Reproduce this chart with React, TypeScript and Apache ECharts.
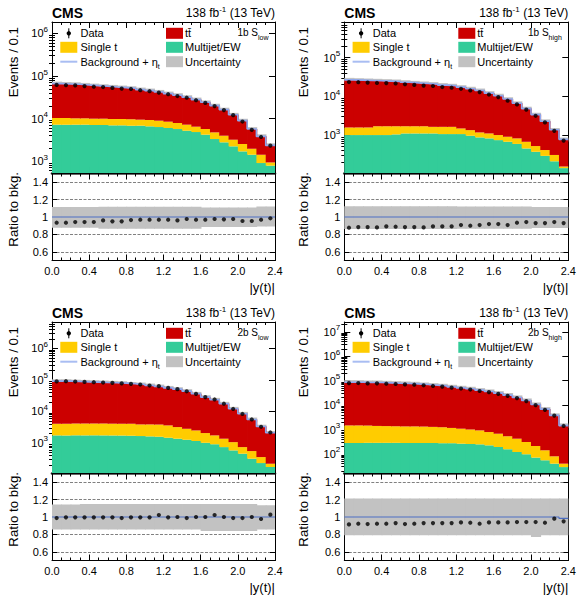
import React, { useEffect, useRef } from 'react';
import * as echarts from 'echarts';

// ---------- data ----------
const binEdges = [0.0, 0.1, 0.2, 0.3, 0.4, 0.5, 0.6, 0.7, 0.8, 0.9, 1.0, 1.1, 1.2, 1.3, 1.4, 1.5, 1.6, 1.7, 1.8, 1.9, 2.0, 2.1, 2.2, 2.3, 2.4];

// 1b S_low
const mjTL = [7180, 7180, 7180, 7180, 7050, 7050, 6920, 6920, 6800, 6800, 6560, 6320, 5990, 5670, 5180, 4820, 4180, 3300, 2760, 2220, 1690, 1410, 900, 780];
const stTL = [3120, 3120, 2940, 2940, 2880, 2880, 2830, 2830, 2770, 2610, 2680, 2590, 2450, 2180, 2000, 1620, 1500, 1430, 1190, 960, 830, 540, 510, 150];
const ttTL = [55900, 54700, 53800, 51500, 49500, 47400, 45500, 43600, 41800, 38400, 36100, 33200, 30100, 27400, 24400, 21400, 18400, 15400, 12300, 9100, 6400, 3730, 2400, 1410];
const dataRatioTL = [0.934, 0.934, 0.942, 0.942, 0.942, 0.961, 0.95, 0.95, 0.965, 0.969, 0.969, 0.969, 0.969, 0.961, 0.977, 0.969, 0.969, 0.977, 0.973, 0.977, 0.954, 0.954, 0.969, 0.985];
const uncUpTL = [1.116, 1.116, 1.116, 1.116, 1.116, 1.118, 1.118, 1.118, 1.118, 1.118, 1.118, 1.118, 1.118, 1.118, 1.118, 1.118, 1.108, 1.108, 1.108, 1.108, 1.108, 1.108, 1.12, 1.12];
const uncDnTL = [0.877, 0.877, 0.877, 0.877, 0.877, 0.866, 0.866, 0.866, 0.866, 0.866, 0.866, 0.866, 0.866, 0.866, 0.866, 0.866, 0.884, 0.884, 0.884, 0.884, 0.884, 0.884, 0.89, 0.89];
const etaRatioTL = [1, 1, 1, 1, 1, 1, 1, 1, 1, 1, 1, 1, 1, 1, 1, 1, 1, 1, 1, 1, 1, 1, 1, 1];

// 1b S_high
const mjTR = [1000, 1000, 1000, 1000, 1000, 1040, 1100, 1100, 1100, 1100, 1060, 1060, 1060, 960, 870, 820, 740, 670, 590, 450, 370, 290, 210, 140];
const stTR = [570, 570, 570, 690, 690, 650, 590, 590, 590, 530, 570, 570, 420, 380, 300, 280, 260, 230, 230, 220, 150, 120, 96, 14];
const ttTR = [25100, 24600, 24100, 23500, 23000, 22500, 21500, 20600, 19800, 19100, 17900, 17100, 15800, 14400, 13000, 11000, 9400, 7600, 5800, 4140, 2860, 1870, 1060, 620];
const dataRatioTR = [0.877, 0.884, 0.884, 0.88, 0.892, 0.888, 0.884, 0.884, 0.88, 0.892, 0.892, 0.892, 0.908, 0.9, 0.908, 0.919, 0.919, 0.908, 0.934, 0.942, 0.93, 0.93, 0.942, 0.93];
const uncUpTR = [1.125, 1.125, 1.125, 1.125, 1.125, 1.125, 1.125, 1.125, 1.125, 1.125, 1.125, 1.125, 1.122, 1.122, 1.122, 1.122, 1.122, 1.122, 1.122, 1.122, 1.115, 1.115, 1.115, 1.115];
const uncDnTR = [0.862, 0.862, 0.862, 0.862, 0.862, 0.862, 0.862, 0.862, 0.862, 0.862, 0.862, 0.862, 0.865, 0.865, 0.865, 0.865, 0.865, 0.865, 0.865, 0.865, 0.875, 0.875, 0.875, 0.875];
const etaRatioTR = [1, 1, 1, 1, 1, 1, 1, 1, 1, 1, 1, 1, 1, 1, 1, 1, 1, 1, 1, 1, 1, 1, 1, 1];

// 2b S_low
const mjBL = [1720, 1720, 1730, 1720, 1730, 1720, 1710, 1700, 1680, 1640, 1600, 1560, 1450, 1350, 1250, 1140, 1000, 900, 730, 573, 450, 312, 227, 170];
const stBL = [2310, 2330, 2370, 2380, 2370, 2380, 2340, 2330, 2320, 2200, 2240, 2240, 2120, 1810, 1540, 1330, 1040, 820, 620, 477, 280, 234, 125, 46];
const ttBL = [87000, 87000, 84800, 82600, 80600, 78500, 76700, 74700, 71000, 67600, 62600, 57900, 52300, 47600, 41100, 33600, 26300, 21600, 16100, 11000, 7630, 4980, 2960, 1860];
const dataRatioBL = [0.988, 0.996, 0.996, 0.996, 0.996, 0.996, 0.996, 0.988, 0.996, 0.996, 0.996, 1.023, 0.996, 1.0, 0.988, 1.0, 1.0, 1.023, 1.0, 0.988, 0.988, 1.0, 0.977, 1.027];
const uncUpBL = [1.143, 1.143, 1.143, 1.15, 1.15, 1.15, 1.15, 1.15, 1.15, 1.15, 1.15, 1.15, 1.15, 1.15, 1.15, 1.15, 1.15, 1.15, 1.15, 1.15, 1.15, 1.15, 1.135, 1.135];
const uncDnBL = [0.857, 0.857, 0.857, 0.857, 0.857, 0.857, 0.857, 0.857, 0.857, 0.857, 0.857, 0.857, 0.857, 0.857, 0.857, 0.857, 0.84, 0.84, 0.84, 0.84, 0.84, 0.84, 0.855, 0.855];
const etaRatioBL = [1, 1, 1, 1, 1, 1, 1, 1, 1, 1, 1, 1, 1, 1, 1, 1, 1, 1, 1, 1, 1, 1, 1, 1];

// 2b S_high
const mjBR = [280, 280, 285, 285, 285, 285, 280, 280, 280, 280, 275, 275, 263, 255, 247, 225, 192, 155, 120, 97, 71, 55, 40, 29];
const stBR = [1190, 1190, 1165, 1115, 1095, 1075, 1060, 1060, 1040, 1000, 965, 885, 817, 745, 673, 562, 481, 369, 301, 211, 140, 86, 40, 11];
const ttBR = [85000, 85000, 82400, 82400, 79800, 77300, 75000, 72600, 68100, 63900, 60100, 54600, 49700, 45300, 39900, 35200, 30100, 25000, 20100, 15100, 10400, 6700, 3700, 1430];
const dataRatioBR = [0.915, 0.923, 0.919, 0.923, 0.923, 0.93, 0.919, 0.923, 0.93, 0.93, 0.93, 0.93, 0.938, 0.934, 0.923, 0.938, 0.938, 0.938, 0.942, 0.942, 0.942, 0.934, 0.981, 0.95];
const uncUpBR = [1.212, 1.212, 1.212, 1.212, 1.212, 1.212, 1.212, 1.212, 1.212, 1.212, 1.212, 1.212, 1.212, 1.212, 1.212, 1.212, 1.212, 1.212, 1.212, 1.212, 1.212, 1.212, 1.212, 1.212];
const uncDnBR = [0.79, 0.79, 0.79, 0.79, 0.79, 0.79, 0.79, 0.79, 0.79, 0.79, 0.79, 0.79, 0.79, 0.79, 0.79, 0.79, 0.79, 0.79, 0.79, 0.79, 0.77, 0.79, 0.79, 0.79];
const etaRatioBR = [1, 1, 1, 1, 1, 1, 1, 1, 1, 1, 1, 1, 1, 1, 1, 1, 1, 1, 1, 1, 1, 1, 1, 0.985];

// axis ranges (log10 of min / max of the event axes)
const logRangeTL = [2.72, 6.27];
const logRangeTR = [2.02, 5.92];
const logRangeBL = [2.04, 6.84];
const logRangeBR = [1.22, 7.4];
const ratioRange = [0.5, 1.5];

const categoryNames = ['1b', '1b', '2b', '2b'];
const regionNames = ['low', 'high', 'low', 'high'];
const lumiText = '138 fb{sup|-1} (13 TeV)';

// ---------- style ----------
const FONT = '"Liberation Sans", Arial, Helvetica, sans-serif';
const C_TT = '#cc0000';
const C_ST = '#ffcc00';
const C_MJ = '#33cc99';
const C_UNC = '#c2c2c2';
const C_SIG = '#8ea7ee';
const C_SIG_R = '#4d6fc4';

const panels = [
  { mj: mjTL, st: stTL, tt: ttTL, dr: dataRatioTL, up: uncUpTL, dn: uncDnTL, eta: etaRatioTL, lr: logRangeTL },
  { mj: mjTR, st: stTR, tt: ttTR, dr: dataRatioTR, up: uncUpTR, dn: uncDnTR, eta: etaRatioTR, lr: logRangeTR },
  { mj: mjBL, st: stBL, tt: ttBL, dr: dataRatioBL, up: uncUpBL, dn: uncDnBL, eta: etaRatioBL, lr: logRangeBL },
  { mj: mjBR, st: stBR, tt: ttBR, dr: dataRatioBR, up: uncUpBR, dn: uncDnBR, eta: etaRatioBR, lr: logRangeBR },
];

const layout = [
  { L: 52, W: 223, T: 22, titleX: -38.5 },
  { L: 344.3, W: 224, T: 22, titleX: -40.8 },
  { L: 52, W: 223, T: 322, titleX: -38.5 },
  { L: 344.3, W: 224, T: 322, titleX: -40.8 },
];
const MAIN_H = 151;
const RATIO_OFF = 151.5;
const RATIO_H = 87;

const black = '#000';

function xAxisDef(gridIndex: number, position: string, labels: boolean, heavy: boolean) {
  return {
    type: 'value', gridIndex, position, min: 0, max: 2.4, interval: 0.4,
    axisLine: { show: true, onZero: false, lineStyle: { color: heavy ? '#333' : black, width: heavy ? 2.6 : 1 } },
    axisTick: { show: true, inside: true, length: 6, lineStyle: { color: black, width: 1 } },
    minorTick: { show: true, splitNumber: 4, length: 3, lineStyle: { color: black, width: 1 } },
    splitLine: { show: false },
    axisLabel: {
      show: labels, margin: 5, fontSize: 11, fontFamily: FONT, color: black,
      formatter: (v: number) => v.toFixed(1),
    },
  };
}

function logAxisDef(gridIndex: number, position: string, labels: boolean, lr: number[]) {
  return {
    type: 'log', logBase: 10, gridIndex, position,
    min: Math.pow(10, lr[0]), max: Math.pow(10, lr[1]),
    axisLine: { show: true, onZero: false, lineStyle: { color: black, width: 1 } },
    axisTick: { show: true, inside: true, length: 6, lineStyle: { color: black, width: 1 } },
    splitLine: { show: false },
    axisLabel: {
      show: labels, margin: 4, showMinLabel: false, showMaxLabel: false,
      formatter: (v: number) => '{b|10}{s|' + Math.round(Math.log10(v)) + '}',
      rich: {
        b: { fontSize: 11, fontFamily: FONT, color: black, lineHeight: 16 },
        s: { fontSize: 8, fontFamily: FONT, color: black, verticalAlign: 'top', lineHeight: 8 },
      },
    },
  };
}

function minorLogAxisDef(gridIndex: number, position: string, lr: number[]) {
  const vals: number[] = [];
  for (let e = Math.floor(lr[0]); e <= Math.ceil(lr[1]); e++) {
    for (let k = 2; k <= 9; k++) {
      const v = k * Math.pow(10, e);
      if (v > Math.pow(10, lr[0]) && v < Math.pow(10, lr[1])) vals.push(v);
    }
  }
  return {
    type: 'log', logBase: 10, gridIndex, position,
    min: Math.pow(10, lr[0]), max: Math.pow(10, lr[1]),
    axisLine: { show: false },
    axisTick: { show: true, inside: true, length: 3, customValues: vals, lineStyle: { color: black, width: 1 } },
    axisLabel: { show: false },
    splitLine: { show: false },
  };
}

function ratioAxisDef(gridIndex: number, position: string, labels: boolean) {
  return {
    type: 'value', gridIndex, position, min: ratioRange[0], max: ratioRange[1], splitNumber: 5,
    axisLine: { show: true, onZero: false, lineStyle: { color: black, width: 1 } },
    axisTick: { show: true, inside: true, length: 5, lineStyle: { color: black, width: 1 } },
    splitLine: labels
      ? { show: true, showMinLine: false, showMaxLine: false, lineStyle: { color: '#808080', width: 1, type: [3, 1.5] } }
      : { show: false },
    axisLabel: {
      show: labels, margin: 4, showMinLabel: false, showMaxLabel: false,
      fontSize: 11, fontFamily: FONT, color: black,
      formatter: (v: number) => (Math.abs(v - 1) < 1e-6 ? '1' : v.toFixed(1)),
    },
  };
}

function histRects(name: string, lows: number[], highs: number[], color: string, xi: number, yi: number, z: number) {
  return {
    type: 'custom', name, xAxisIndex: xi, yAxisIndex: yi, z, silent: true, clip: true,
    encode: { x: [0, 1], y: [2, 3] },
    data: lows.map((lo, i) => [binEdges[i], binEdges[i + 1], lo, highs[i]]),
    renderItem: (params: any, api: any) => {
      const a = api.coord([api.value(0), api.value(3)]);
      const b = api.coord([api.value(1), api.value(2)]);
      const last = params.dataIndex === lows.length - 1;
      return {
        type: 'rect',
        shape: { x: a[0], y: a[1], width: b[0] - a[0] + (last ? 0 : 0.8), height: b[1] - a[1] },
        style: { fill: color, stroke: null },
      };
    },
  };
}

function stepLine(name: string, vals: number[], color: string, width: number, xi: number, yi: number, z: number) {
  const pts = vals.map((v, i) => [binEdges[i], v]);
  pts.push([binEdges[binEdges.length - 1], vals[vals.length - 1]]);
  return {
    type: 'line', name, xAxisIndex: xi, yAxisIndex: yi, z, step: 'end', symbol: 'none', silent: true,
    lineStyle: { color, width }, data: pts,
  };
}

function points(name: string, vals: number[], xi: number, yi: number) {
  return {
    type: 'scatter', name, xAxisIndex: xi, yAxisIndex: yi, z: 6, silent: true,
    symbol: 'circle', symbolSize: 4.2, itemStyle: { color: black },
    data: vals.map((v, i) => [(binEdges[i] + binEdges[i + 1]) / 2, v]),
  };
}

function txt(x: number, y: number, text: string, size: number, extra: any = {}) {
  const small = Math.round(size * 0.68);
  return {
    type: 'text', x, y, silent: true, rotation: extra.rotation || 0,
    style: {
      text, x: 0, y: 0, fill: black, fontSize: size, fontFamily: FONT,
      fontWeight: extra.bold ? 'bold' : 'normal',
      lineHeight: extra.lh || size,
      align: extra.align || 'left', verticalAlign: 'middle',
      rich: {
        sup: { fontSize: small, fontFamily: FONT, fill: black, verticalAlign: 'top', lineHeight: small },
        sub: { fontSize: small, fontFamily: FONT, fill: black, verticalAlign: 'bottom', lineHeight: small },
      },
    },
  };
}

function box(x: number, yc: number, fill: string) {
  return { type: 'rect', silent: true, shape: { x, y: yc - 5.5, width: 17, height: 11 }, style: { fill } };
}

function buildOption() {
  const grids: any[] = [];
  const xAxes: any[] = [];
  const yAxes: any[] = [];
  const series: any[] = [];
  const graphics: any[] = [];

  panels.forEach((p, k) => {
    const { L, W, T, titleX } = layout[k];
    const total = p.tt.map((v, i) => v + p.st[i] + p.mj[i]);
    const yMin = Math.pow(10, p.lr[0]);

    const gMain = grids.length;
    grids.push({ left: L, top: T, width: W, height: MAIN_H, outerBoundsMode: 'none', containLabel: false });
    const gRat = grids.length;
    grids.push({ left: L, top: T + RATIO_OFF, width: W, height: RATIO_H, outerBoundsMode: 'none', containLabel: false });

    const xMain = xAxes.length;
    xAxes.push(xAxisDef(gMain, 'bottom', false, true));
    xAxes.push(xAxisDef(gMain, 'top', false, false));
    const xRat = xAxes.length;
    xAxes.push(xAxisDef(gRat, 'bottom', true, false));
    xAxes.push(xAxisDef(gRat, 'top', false, false));

    const yMain = yAxes.length;
    yAxes.push(logAxisDef(gMain, 'left', true, p.lr));
    yAxes.push(logAxisDef(gMain, 'right', false, p.lr));
    yAxes.push(minorLogAxisDef(gMain, 'left', p.lr));
    yAxes.push(minorLogAxisDef(gMain, 'right', p.lr));
    const yRat = yAxes.length;
    yAxes.push(ratioAxisDef(gRat, 'left', true));
    yAxes.push(ratioAxisDef(gRat, 'right', false));

    const stTop = p.st.map((v, i) => v + p.mj[i]);
    // main pad
    series.push(histRects('Uncertainty', total.map((v, i) => v * p.dn[i]), total.map((v, i) => v * p.up[i]), C_UNC, xMain, yMain, 1));
    series.push(histRects('Multijet/EW', p.mj.map(() => yMin), p.mj, C_MJ, xMain, yMain, 2));
    series.push(histRects('Single t', p.mj, stTop, C_ST, xMain, yMain, 2));
    series.push(histRects('tt̄', stTop, total, C_TT, xMain, yMain, 2));
    series.push(stepLine('Background + ηt', total.map((v, i) => v * p.eta[i]), C_SIG, 1.6, xMain, yMain, 3));
    series.push(points('Data', total.map((v, i) => v * p.dr[i]), xMain, yMain));
    // ratio pad
    series.push(histRects('Uncertainty', p.dn, p.up, C_UNC, xRat, yRat, 1));
    series.push(stepLine('Background + ηt', p.eta, C_SIG_R, 1.2, xRat, yRat, 3));
    series.push(points('Data', p.dr, xRat, yRat));

    // texts and legend
    const r1 = 11.3, r2 = 25.3, r3 = 39.7;
    graphics.push({
      type: 'group', x: L, y: T, silent: true,
      children: [
        txt(0, -8.7, 'CMS', 14, { bold: true }),
        txt(W, -8.7, lumiText, 12, { align: 'right', lh: 16 }),
        txt(W - 6.5, 10.5, categoryNames[k] + ' S{sub|' + regionNames[k] + '}', 10, { align: 'right', lh: 16 }),
        // legend left column
        { type: 'line', silent: true, shape: { x1: 16.8, y1: r1 - 5, x2: 16.8, y2: r1 + 5 }, style: { stroke: black, lineWidth: 1 } },
        { type: 'circle', silent: true, shape: { cx: 16.8, cy: r1, r: 2.2 }, style: { fill: black } },
        txt(28.5, r1, 'Data', 11),
        box(8.3, r2, C_ST),
        txt(28.5, r2, 'Single t', 11),
        { type: 'line', silent: true, shape: { x1: 8.3, y1: r3, x2: 25.3, y2: r3 }, style: { stroke: '#a9bdf2', lineWidth: 2 } },
        txt(28.5, r3, 'Background + η{sub|t}', 11, { lh: 16 }),
        // legend right column
        box(114, r1, C_TT),
        txt(133, r1, 'tt̄', 11),
        box(114, r2, C_MJ),
        txt(133, r2, 'Multijet/EW', 11),
        box(114, r3, C_UNC),
        txt(133, r3, 'Uncertainty', 11),
        // axis titles
        txt(titleX, 5, 'Events / 0.1', 13.3, { align: 'right', rotation: Math.PI / 2 }),
        txt(titleX, 150, 'Ratio to bkg.', 13.3, { align: 'right', rotation: Math.PI / 2 }),
        txt(W, 265, '|y(t)|', 13, { align: 'right' }),
      ],
    });
  });

  return {
    animation: false,
    backgroundColor: '#fff',
    textStyle: { fontFamily: FONT },
    grid: grids,
    xAxis: xAxes,
    yAxis: yAxes,
    series,
    graphic: { elements: graphics },
  };
}

export default function App() {
  const ref = useRef<HTMLDivElement>(null);
  useEffect(() => {
    document.body.style.margin = '0';
    const chart = echarts.init(ref.current as HTMLDivElement, undefined, { renderer: 'svg', width: 580, height: 599 });
    chart.setOption(buildOption() as any);
    return () => chart.dispose();
  }, []);
  return <div ref={ref} style={{ width: 580, height: 599, position: 'absolute', left: 0, top: 0 }} />;
}
